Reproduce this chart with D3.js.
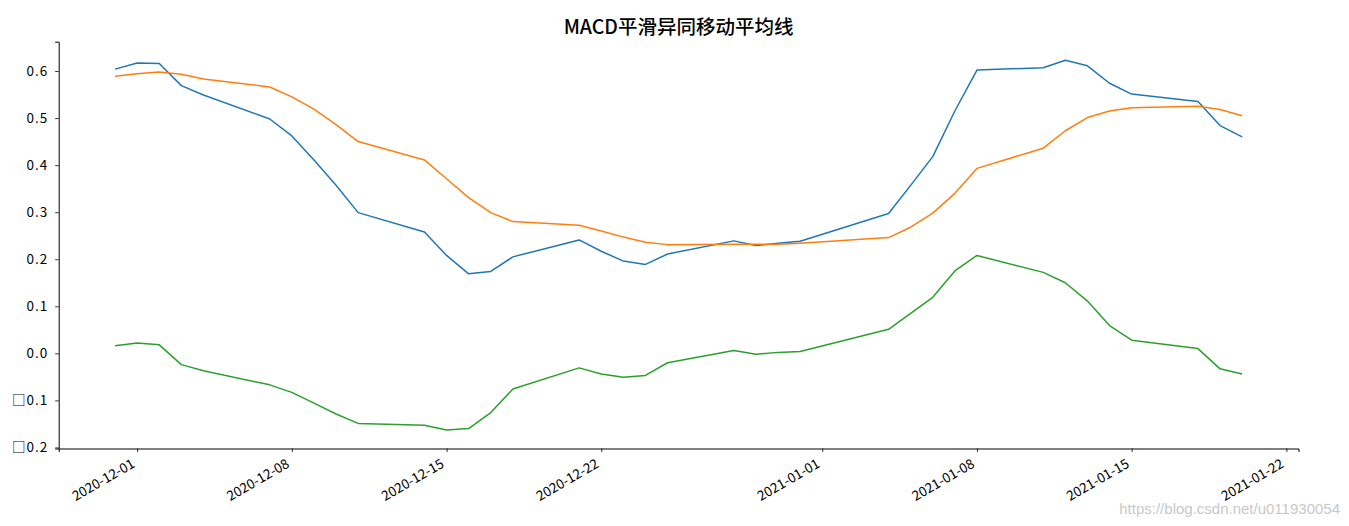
<!DOCTYPE html>
<html>
<head>
<meta charset="utf-8">
<script src="https://cdn.jsdelivr.net/npm/d3@7"></script>
<style>
  html, body { margin: 0; padding: 0; background: #fff; }
  svg { display: block; }
</style>
</head>
<body>
<svg id="chart" width="1349" height="526"></svg>
<script>
const dates = ["2020-11-30","2020-12-01","2020-12-02","2020-12-03","2020-12-04",
  "2020-12-07","2020-12-08","2020-12-09","2020-12-10","2020-12-11",
  "2020-12-14","2020-12-15","2020-12-16","2020-12-17","2020-12-18",
  "2020-12-21","2020-12-22","2020-12-23","2020-12-24","2020-12-25",
  "2020-12-28","2020-12-29","2020-12-30","2020-12-31",
  "2021-01-04","2021-01-05","2021-01-06","2021-01-07","2021-01-08",
  "2021-01-11","2021-01-12","2021-01-13","2021-01-14","2021-01-15",
  "2021-01-18","2021-01-19","2021-01-20"];
const dif = [0.604,0.617,0.616,0.569,0.549,
  0.498,0.462,0.411,0.357,0.299,
  0.258,0.208,0.169,0.174,0.205,
  0.241,0.217,0.196,0.189,0.211,
  0.239,0.229,0.234,0.238,
  0.297,0.357,0.418,0.515,0.602,
  0.607,0.623,0.611,0.574,0.551,
  0.535,0.484,0.460];
const dea = [0.589,0.594,0.598,0.593,0.583,
  0.566,0.545,0.519,0.486,0.450,
  0.411,0.371,0.331,0.299,0.280,
  0.272,0.260,0.247,0.236,0.231,
  0.232,0.232,0.232,0.234,
  0.246,0.268,0.298,0.340,0.393,
  0.436,0.473,0.501,0.515,0.522,
  0.525,0.518,0.505];
const hist = [0.016,0.022,0.018,-0.024,-0.037,
  -0.067,-0.083,-0.106,-0.129,-0.149,
  -0.153,-0.163,-0.160,-0.126,-0.076,
  -0.031,-0.044,-0.051,-0.047,-0.020,
  0.006,-0.002,0.002,0.004,
  0.051,0.085,0.119,0.175,0.208,
  0.172,0.150,0.111,0.059,0.028,
  0.010,-0.033,-0.044];
const yTicks = [-0.2,-0.1,0.0,0.1,0.2,0.3,0.4,0.5,0.6];
const xTickLabels = ["2020-12-01","2020-12-08","2020-12-15","2020-12-22","2021-01-01","2021-01-08","2021-01-15","2021-01-22"];
const colors = ["#1f77b4","#ff7f0e","#2ca02c"];
const title = "MACD平滑异同移动平均线";
const watermark = "https://blog.csdn.net/u011930054";

const W = 1349, H = 526;
const margin = {top: 41.7, right: 50.5, bottom: 77.5, left: 58.7};
const parse = d3.utcParse("%Y-%m-%d");
const xs = dates.map(parse);

const svg = d3.select("#chart");
const fontFamily = "'Noto Sans CJK SC', 'DejaVu Sans', sans-serif";

// x domain with 5% margins (matplotlib style)
const xMin = +xs[0], xMax = +xs[xs.length-1];
const xPad = (xMax - xMin) * 0.05;
const x = d3.scaleUtc()
  .domain([new Date(xMin - xPad), new Date(xMax + xPad)])
  .range([margin.left, W - margin.right]);

const allY = dif.concat(dea, hist);
const yMinD = d3.min(allY), yMaxD = d3.max(allY);
const yPad = (yMaxD - yMinD) * 0.05;
const y = d3.scaleLinear()
  .domain([yMinD - yPad, yMaxD + yPad])
  .range([H - margin.bottom, margin.top]);

// lines
const series = [dif, dea, hist];
const line = d3.line().x((d, i) => x(xs[i])).y(d => y(d));
series.forEach((s, k) => {
  svg.append("path")
    .datum(s)
    .attr("fill", "none")
    .attr("stroke", colors[k])
    .attr("stroke-width", 1.5)
    .attr("stroke-linejoin", "round")
    .attr("d", line);
});

// axes
const xAxis = d3.axisBottom(x)
  .tickValues(xTickLabels.map(parse))
  .tickFormat(d3.utcFormat("%Y-%m-%d"))
  .tickSizeOuter(0).tickSize(3.5).tickPadding(3);
const gx = svg.append("g")
  .attr("transform", `translate(0,${H - margin.bottom})`)
  .call(xAxis);
gx.select(".domain").attr("stroke", "#000").attr("stroke-width", 1);
gx.selectAll(".tick line").attr("stroke", "#000").attr("stroke-width", 0.8);
gx.selectAll(".tick text")
  .attr("font-family", fontFamily)
  .attr("font-size", 13.5)
  .attr("fill", "#000")
  .attr("text-anchor", "end")
  .attr("dy", null)
  .attr("y", 0)
  .attr("transform", "translate(-2,18) rotate(-30)");

const yAxis = d3.axisLeft(y)
  .tickValues(yTicks)
  .tickFormat(d => (d < 0 ? "□" : "") + Math.abs(d).toFixed(1))
  .tickSizeOuter(0).tickSize(3.5).tickPadding(7);
const gy = svg.append("g")
  .attr("transform", `translate(${margin.left},0)`)
  .call(yAxis);
gy.select(".domain").attr("stroke", "#000").attr("stroke-width", 1);
gy.selectAll(".tick line").attr("stroke", "#000").attr("stroke-width", 0.8);
gy.selectAll(".tick text")
  .attr("font-family", fontFamily)
  .attr("font-size", 13.5)
  .attr("letter-spacing", 1)
  .attr("fill", "#000");

// title
svg.append("text")
  .attr("x", (margin.left + W - margin.right) / 2)
  .attr("y", 34)
  .attr("text-anchor", "middle")
  .attr("font-family", fontFamily)
  .attr("font-size", 19.5)
  .attr("font-weight", 500)
  .attr("fill", "#000")
  .text(title);

// watermark
svg.append("text")
  .attr("x", 1340)
  .attr("y", 514)
  .attr("text-anchor", "end")
  .attr("font-family", "'Liberation Sans', Arial, sans-serif")
  .attr("font-size", 15)
  .attr("fill", "#c8c8c8")
  .text(watermark);
</script>
</body>
</html>
